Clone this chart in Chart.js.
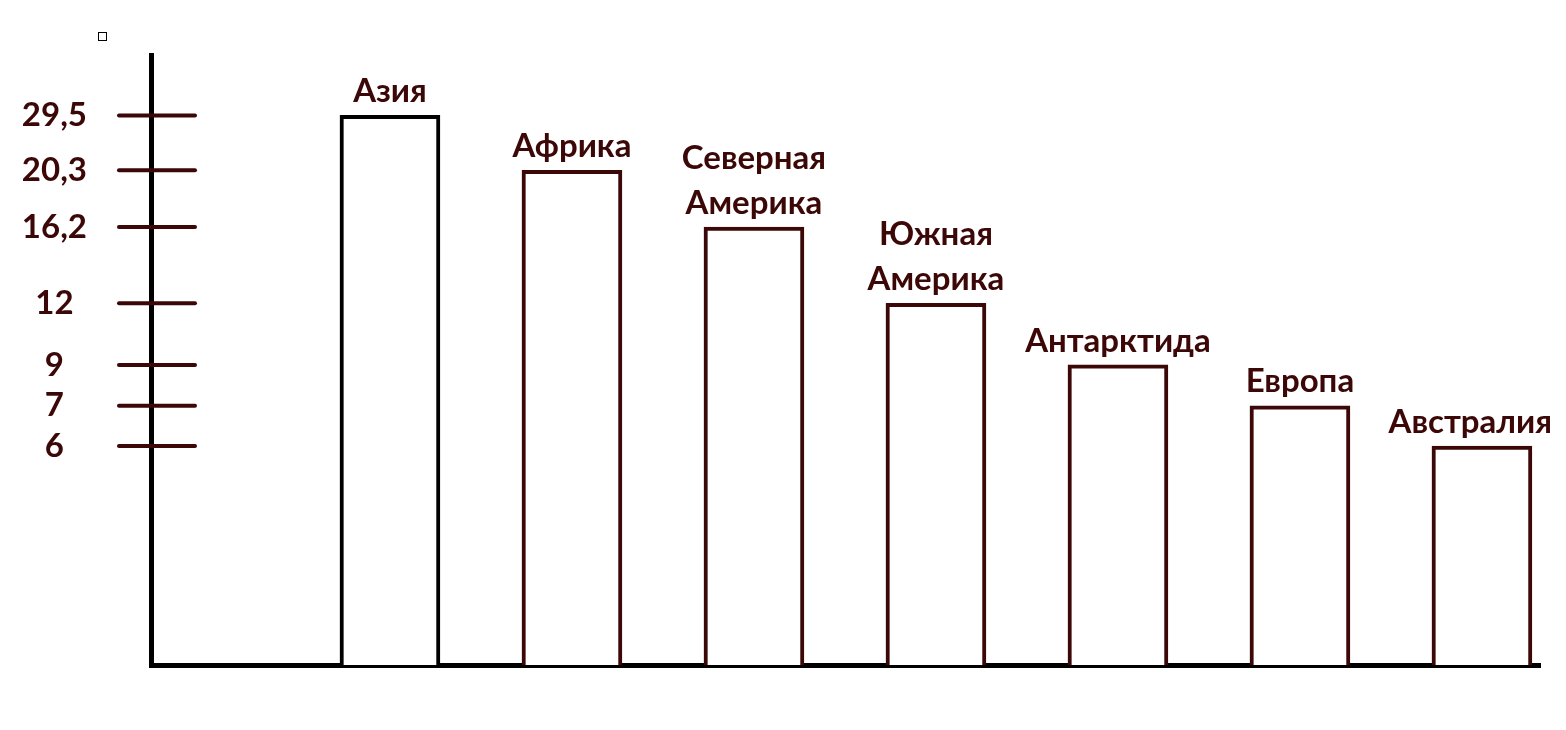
<!DOCTYPE html>
<html lang="ru">
<head>
<meta charset="utf-8">
<script src="https://cdn.jsdelivr.net/npm/chart.js@4.4.1/dist/chart.umd.min.js"></script>
<style>
  body { margin: 0; background: #fff; }
  #wrap { position: relative; width: 1566px; height: 730px; }
  .dot { position: absolute; left: 98px; top: 32px; width: 7px; height: 7px; border: 1px solid #000; }
</style>
</head>
<body>
<div id="wrap">
  <canvas id="chart" width="1566" height="730"></canvas>
  <div class="dot"></div>
</div>
<script>
// Площадь материков, % суши
const continents = ['Азия', 'Африка', 'Северная Америка', 'Южная Америка', 'Антарктида', 'Европа', 'Австралия'];
const shares = [29.5, 20.3, 16.2, 12, 9, 7, 6];
const yTicks = [29.5, 20.3, 16.2, 12, 9, 7, 6];

// ось нарисована от руки: деления не пропорциональны значениям
const axisStops = [0, 6, 7, 9, 12, 16.2, 20.3, 29.5, 35];
const axisFrac = [0, 0.359, 0.425, 0.492, 0.593, 0.718, 0.811, 0.901, 1];

const INK = '#3b0707';
const barColors = ['#000000', INK, INK, INK, INK, INK, INK];
const FONT = { family: 'Lato, "Open Sans", sans-serif', weight: 'bold', size: 33 };

function warp(v) {
  for (let i = 1; i < axisStops.length; i++) {
    if (v <= axisStops[i]) {
      const t = (v - axisStops[i - 1]) / (axisStops[i] - axisStops[i - 1]);
      return axisFrac[i - 1] + t * (axisFrac[i] - axisFrac[i - 1]);
    }
  }
  return 1;
}

function unwarp(f) {
  for (let i = 1; i < axisFrac.length; i++) {
    if (f <= axisFrac[i]) {
      const t = (f - axisFrac[i - 1]) / (axisFrac[i] - axisFrac[i - 1]);
      return axisStops[i - 1] + t * (axisStops[i] - axisStops[i - 1]);
    }
  }
  return axisStops[axisStops.length - 1];
}

class SketchScale extends Chart.LinearScale {
  buildTicks() {
    return yTicks.map(v => ({ value: v }));
  }
  getPixelForValue(value) {
    return this.getPixelForDecimal(warp(value));
  }
  getValueForPixel(pixel) {
    return unwarp(this.getDecimalForPixel(pixel));
  }
}
SketchScale.id = 'sketch';
SketchScale.defaults = {};
Chart.register(SketchScale);

// черточки делений пересекают ось
const tickMarks = {
  id: 'tickMarks',
  afterDraw(chart) {
    const scale = chart.scales.y;
    const ctx = chart.ctx;
    ctx.save();
    ctx.strokeStyle = INK;
    ctx.lineWidth = 4;
    ctx.lineCap = 'round';
    scale.ticks.forEach(t => {
      const y = scale.getPixelForValue(t.value);
      ctx.beginPath();
      ctx.moveTo(scale.right - 32, y);
      ctx.lineTo(scale.right + 44, y);
      ctx.stroke();
    });
    ctx.restore();
  }
};

// подписи материков над столбиками
const barNames = {
  id: 'barNames',
  afterDatasetsDraw(chart) {
    const ctx = chart.ctx;
    const meta = chart.getDatasetMeta(0);
    ctx.save();
    ctx.fillStyle = INK;
    ctx.font = `${FONT.weight} ${FONT.size}px ${FONT.family}`;
    ctx.textAlign = 'center';
    ctx.textBaseline = 'middle';
    meta.data.forEach((bar, i) => {
      const lines = continents[i].split(' ');
      lines.forEach((line, j) => {
        const w = ctx.measureText(line).width;
        const x = Math.min(bar.x, chart.width - 14 - w / 2);
        const y = bar.y - 24 - (lines.length - 1 - j) * 45;
        ctx.fillText(line, x, y);
      });
    });
    ctx.restore();
  }
};

function noPadding(scale) {
  scale.paddingTop = 0;
  scale.paddingBottom = 0;
  scale.paddingLeft = 0;
  scale.paddingRight = 0;
}

new Chart(document.getElementById('chart'), {
  type: 'bar',
  data: {
    datasets: [{
      data: shares.map((v, i) => ({ x: i, y: v })),
      backgroundColor: '#ffffff',
      borderColor: barColors,
      borderWidth: 4,
      barThickness: 100
    }]
  },
  options: {
    responsive: false,
    animation: false,
    layout: { padding: { left: 21, top: 55, right: 26, bottom: 65 } },
    plugins: {
      legend: { display: false },
      tooltip: { enabled: false }
    },
    scales: {
      x: {
        type: 'linear',
        offset: false,
        min: -1.313,
        max: 6.319,
        grid: { display: false, drawTicks: false, offset: false },
        border: { display: true, color: '#000', width: 5 },
        ticks: { display: false },
        afterFit(scale) { scale.height = 0; noPadding(scale); }
      },
      y: {
        type: 'sketch',
        position: 'left',
        min: 0,
        max: 35,
        grid: { display: false, drawTicks: false },
        border: { display: true, color: '#000', width: 5 },
        ticks: {
          autoSkip: false,
          color: INK,
          font: FONT,
          padding: 64,
          crossAlign: 'center',
          callback: v => v.toLocaleString('ru-RU')
        },
        afterFit(scale) { scale.width = 130; noPadding(scale); }
      }
    }
  },
  plugins: [tickMarks, barNames]
});
</script>
</body>
</html>
